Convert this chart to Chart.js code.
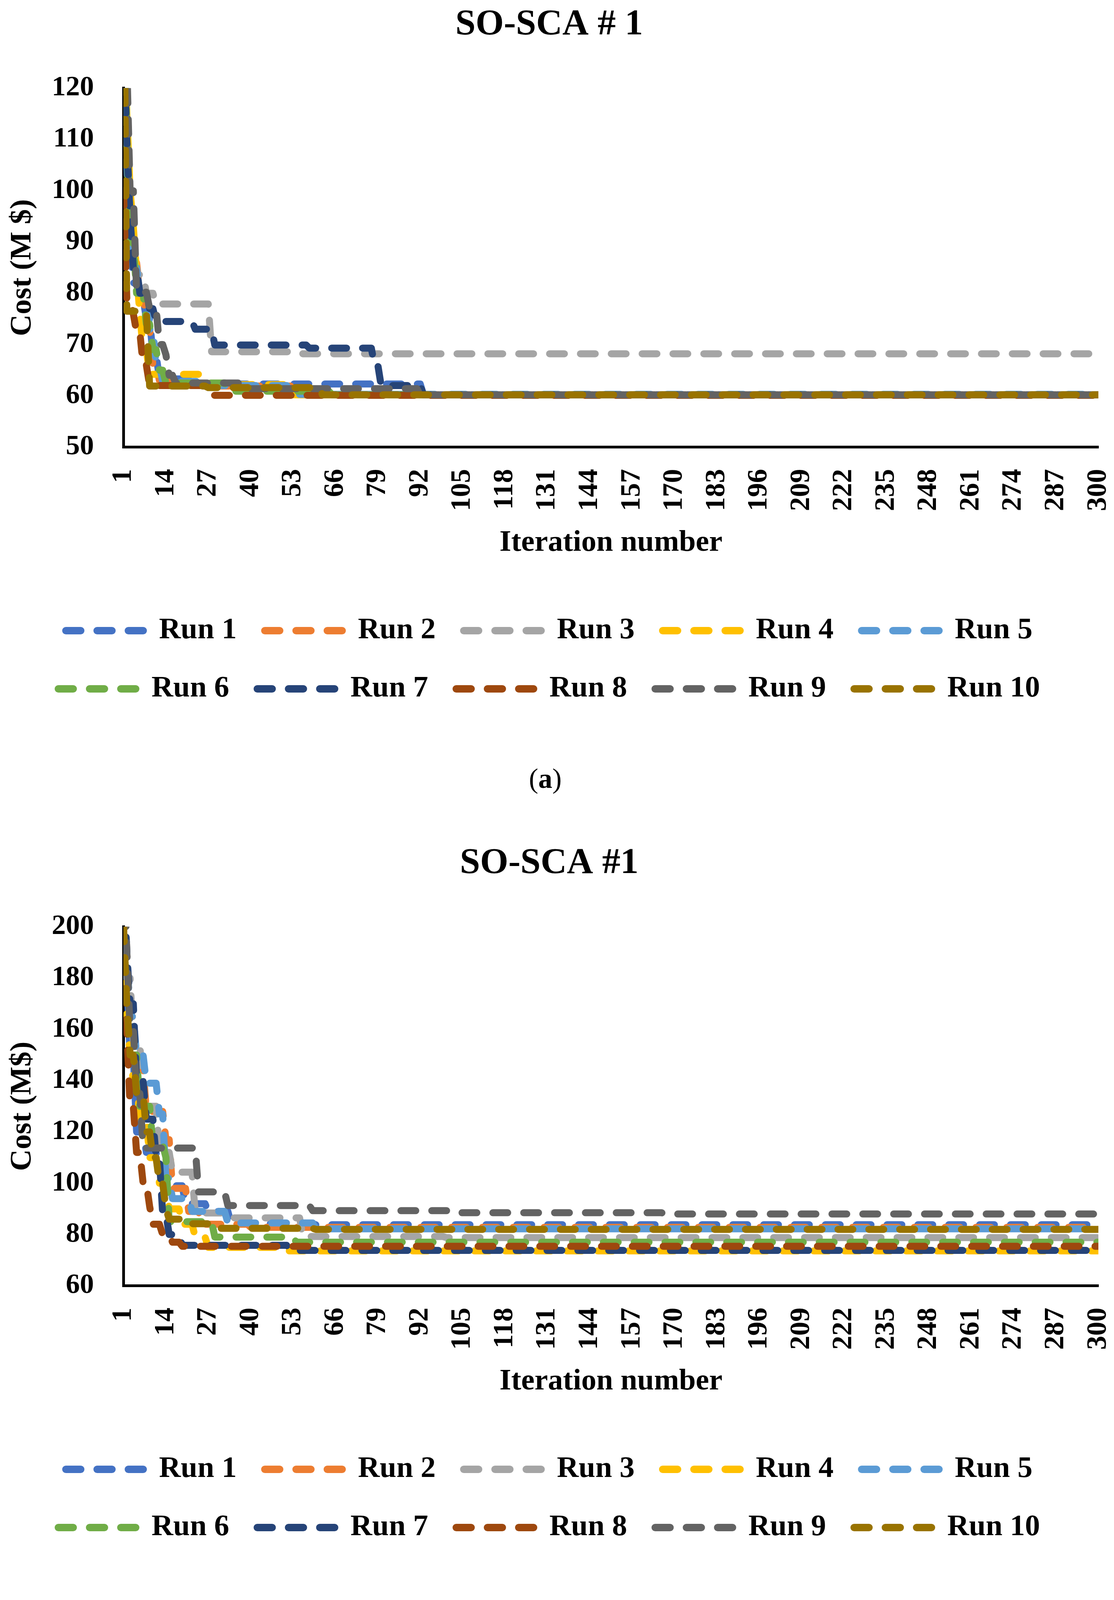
<!DOCTYPE html>
<html>
<head>
<meta charset="utf-8">
<title>SO-SCA #1 convergence</title>
<script src="https://cdn.jsdelivr.net/npm/chart.js@4.4.1/dist/chart.umd.min.js"></script>
<style>
  html, body { margin: 0; padding: 0; background: #fff; }
  body { position: relative; width: 2853px; height: 4206px; overflow: hidden; }
  canvas { position: absolute; left: 0; }
  .caption {
    position: absolute; left: 0; width: 2793px; text-align: center;
    font-family: 'Liberation Serif', 'Times New Roman', serif;
    font-size: 72px; line-height: 80px; color: #000;
  }
</style>
</head>
<body>
<canvas id="chartA" width="2853" height="1812" style="top:0px"></canvas>
<div class="caption" style="top:1953px">(<b>a</b>)</div>
<canvas id="chartB" width="2853" height="1812" style="top:2147px"></canvas>
<div class="caption" style="top:4100px">(<b>b</b>)</div>

<script>
// ---- data ----
const iterTicks = [1, 14, 27, 40, 53, 66, 79, 92, 105, 118, 131, 144, 157, 170,
  183, 196, 209, 222, 235, 248, 261, 274, 287, 300];
const costTicksA = [50, 60, 70, 80, 90, 100, 110, 120];
const costTicksB = [60, 80, 100, 120, 140, 160, 180, 200];

const runLabels = ['Run 1', 'Run 2', 'Run 3', 'Run 4', 'Run 5',
  'Run 6', 'Run 7', 'Run 8', 'Run 9', 'Run 10'];
const runColors = ['#4472C4', '#ED7D31', '#A5A5A5', '#FFC000', '#5B9BD5',
  '#70AD47', '#264478', '#9E480E', '#636363', '#997300'];

// each run: [iteration where the best cost changes, cost (M$)]
// (a)
const runA1 = [[1, 130], [2, 105], [3, 90], [4, 82], [6, 79], [8, 75], [10, 68], [12, 63.3], [22, 62.3], [93, 60.2]];
const runA2 = [[1, 140], [2, 110], [3, 98], [4, 92], [5, 86], [6, 80], [8, 73], [10, 66], [12, 63], [16, 62.3], [30, 61.9], [55, 60.2]];
const runA3 = [[1, 140], [2, 110], [3, 95], [4, 88], [5, 83.6], [8, 80], [11, 77.9], [28, 68.6], [56, 68.2]];
const runA4 = [[1, 135], [2, 115], [3, 100], [4, 93], [5, 84], [6, 76], [7, 69], [9, 64.2], [26, 62.2], [52, 60.2]];
const runA5 = [[1, 140], [2, 110], [3, 95], [4, 85], [6, 80], [9, 73], [11, 66], [13, 62.8], [25, 62], [55, 60.3]];
const runA6 = [[1, 140], [2, 110], [3, 90], [5, 80], [8, 74], [10, 69], [12, 65], [14, 62.5], [33, 60.9], [65, 60.2]];
const runA7 = [[1, 130], [2, 110], [3, 95], [4, 85], [6, 80], [9, 77], [11, 74.5], [23, 73], [29, 69.9], [58, 69.3], [78, 66], [80, 62], [93, 60.2]];
const runA8 = [[1, 100], [2, 79], [4, 76], [5, 72.4], [7, 66], [9, 62], [28, 60.1]];
const runA9 = [[1, 150], [2, 125], [3, 100], [5, 80.2], [9, 77], [12, 70], [14, 68], [15, 64], [17, 62.5], [40, 61.4], [92, 60.2]];
const runA10 = [[1, 150], [2, 76.5], [9, 61.9], [27, 61.6], [62, 60.2]];
// (b)
const runB1 = [[1, 230], [2, 180], [3, 150], [5, 120], [8, 112], [12, 104], [16, 99], [20, 92], [27, 89], [34, 84.2], [60, 83.8]];
const runB2 = [[1, 230], [2, 190], [3, 165], [5, 145], [8, 128], [14, 117], [16, 98], [21, 89], [25, 84], [40, 82.8]];
const runB3 = [[1, 220], [2, 180], [4, 155], [7, 130], [12, 112], [16, 104.3], [23, 88.4], [33, 86.5], [56, 79.2], [100, 78.8]];
const runB4 = [[1, 190], [2, 165], [3, 150], [4, 140], [6, 125], [9, 110], [12, 100], [15, 90], [19, 84], [23, 79], [27, 75], [50, 73.6]];
const runB5 = [[1, 230], [2, 190], [3, 165], [5, 150], [8, 139], [12, 127], [14, 102], [16, 94], [22, 89], [33, 84.5], [60, 82.2]];
const runB6 = [[1, 200], [2, 170], [3, 150], [6, 130], [10, 115], [14, 110], [15, 85], [29, 79], [54, 77]];
const runB7 = [[1, 220], [2, 190], [3, 170], [5, 140], [8, 125], [11, 110], [13, 88], [15, 80], [19, 75.8], [52, 73.8]];
const runB8 = [[1, 200], [2, 160], [3, 130], [5, 112], [7, 100], [9, 91], [10, 84], [13, 80], [16, 77], [19, 75.4]];
const runB9 = [[1, 230], [2, 190], [3, 160], [5, 135], [7, 113.7], [24, 96.6], [33, 91.3], [59, 89.3], [102, 88.5], [167, 88.0]];
const runB10 = [[1, 200], [2, 170], [3, 150], [5, 135], [8, 120], [10, 110], [12, 100], [14, 90], [15, 86], [21, 84.2], [28, 82.4], [60, 82.0]];

const runsA = [runA1, runA2, runA3, runA4, runA5, runA6, runA7, runA8, runA9, runA10];
const runsB = [runB1, runB2, runB3, runB4, runB5, runB6, runB7, runB8, runB9, runB10];

// ---- styling ----
const FONT = "'Liberation Serif', 'Times New Roman', serif";
const LAST_ITER = iterTicks[iterTicks.length - 1];
Chart.defaults.color = '#000';
Chart.defaults.font.family = FONT;

// best-so-far curve: value holds until the next change point
function toPoints(steps) {
  const pts = [];
  steps.forEach(([it, cost], k) => {
    if (k > 0) {
      const prev = steps[k - 1];
      if (it - 1 > prev[0]) pts.push({ x: it - 1, y: prev[1] });
    }
    pts.push({ x: it, y: cost });
  });
  const last = steps[steps.length - 1];
  if (last[0] < LAST_ITER) pts.push({ x: LAST_ITER, y: last[1] });
  return pts;
}

function buildDatasets(runs) {
  return runs.map((steps, i) => ({
    label: runLabels[i],
    data: toPoints(steps),
    borderColor: runColors[i],
    backgroundColor: runColors[i],
    borderWidth: 18,
    borderDash: [38, 41],
    borderCapStyle: 'round',
    borderJoinStyle: 'round',
    pointRadius: 0,
    fill: false,
    tension: 0,
    clip: 0,
    order: runs.length - i   // later runs painted on top, like Excel
  }));
}

function makeChart(id, title, yTitle, yTicks, runs) {
  return new Chart(document.getElementById(id), {
    type: 'line',
    data: { datasets: buildDatasets(runs) },
    options: {
      responsive: false,
      animation: false,
      events: [],
      layout: { padding: { left: 0, right: 40, top: 0, bottom: 0 } },
      plugins: {
        title: {
          display: true,
          text: title,
          color: '#000',
          font: { family: FONT, size: 93, weight: 'bold' },
          padding: { top: 8, bottom: 106 }
        },
        legend: {
          position: 'bottom',
          labels: {
            usePointStyle: true,
            pointStyleWidth: 200,
            padding: 72,
            color: '#000',
            font: { family: FONT, size: 77, weight: 'bold' },
            generateLabels: (chart) => chart.data.datasets.map((ds, i) => ({
              text: ds.label,
              fillStyle: ds.borderColor,
              strokeStyle: ds.borderColor,
              lineWidth: 19,
              lineDash: [38, 42],
              lineCap: 'round',
              pointStyle: 'line',
              fontColor: '#000',
              hidden: false,
              datasetIndex: i
            }))
          }
        },
        tooltip: { enabled: false }
      },
      scales: {
        x: {
          type: 'linear',
          min: iterTicks[0],
          max: LAST_ITER,
          afterBuildTicks: (axis) => { axis.ticks = iterTicks.map(v => ({ value: v })); },
          // gap between axis and labels comes from the (hidden) tick length
          grid: { display: false, drawTicks: true, tickLength: 56 },
          border: { display: true, color: '#000', width: 7 },
          ticks: {
            autoSkip: false,
            minRotation: 90,
            maxRotation: 90,
            padding: 0,
            color: '#000',
            font: { family: FONT, size: 72, weight: 'bold', lineHeight: 0.5 }
          },
          title: {
            display: true,
            text: 'Iteration number',
            color: '#000',
            font: { family: FONT, size: 77, weight: 'bold' },
            padding: { top: 35, bottom: 68 }
          }
        },
        y: {
          type: 'linear',
          min: yTicks[0],
          max: yTicks[yTicks.length - 1],
          afterBuildTicks: (axis) => { axis.ticks = yTicks.map(v => ({ value: v })); },
          grid: { display: false, drawTicks: true, tickLength: 76 },
          border: { display: true, color: '#000', width: 7 },
          ticks: {
            padding: 0,
            color: '#000',
            font: { family: FONT, size: 72, weight: 'bold' }
          },
          title: {
            display: true,
            text: yTitle,
            color: '#000',
            font: { family: FONT, size: 77, weight: 'bold' },
            padding: { top: 12, bottom: 28 }
          }
        }
      }
    }
  });
}

makeChart('chartA', 'SO-SCA # 1', 'Cost (M $)', costTicksA, runsA);
makeChart('chartB', 'SO-SCA #1', 'Cost (M$)', costTicksB, runsB);
</script>
</body>
</html>
